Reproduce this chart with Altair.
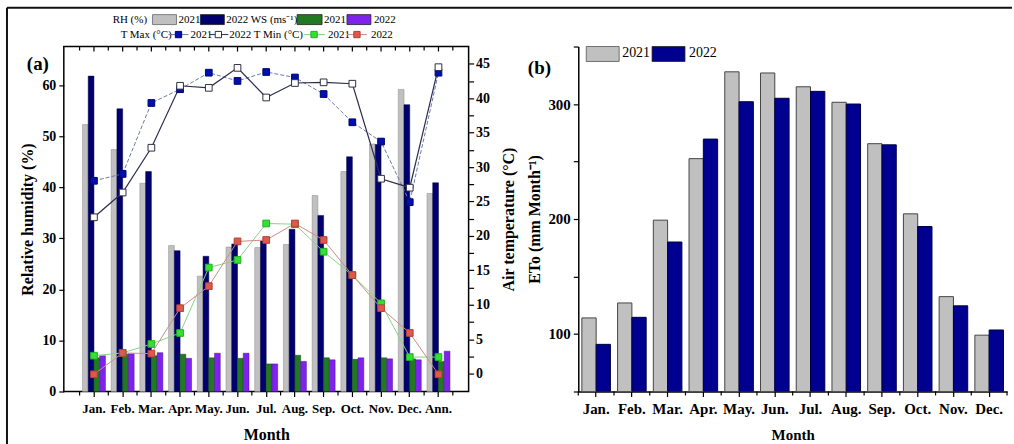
import altair as alt
import pandas as pd

SERIF = "Liberation Serif"

# ---------------- data ----------------
months_a = ["Jan.", "Feb.", "Mar.", "Apr.", "May.", "Jun.", "Jul.", "Aug.", "Sep.", "Oct.", "Nov.", "Dec.", "Ann."]
rh_2021 = [52.3, 47.4, 40.8, 28.6, 22.6, 28.3, 28.2, 28.8, 38.4, 43.1, 48.5, 59.2, 38.8]
rh_2022 = [61.8, 55.4, 43.1, 27.6, 26.5, 28.9, 29.5, 31.8, 34.5, 46.0, 48.4, 56.2, 40.9]
ws_2021 = [6.6, 7.3, 7.0, 7.3, 6.6, 6.5, 5.4, 7.1, 6.6, 6.3, 6.6, 6.4, 5.9]
ws_2022 = [7.0, 7.4, 7.6, 6.5, 7.5, 7.5, 5.4, 5.9, 6.2, 6.6, 6.4, 6.2, 7.9]
tmax_2021 = [28.0, 29.0, 39.3, 41.3, 43.7, 42.5, 43.8, 43.0, 40.6, 36.5, 33.7, 24.9, 43.7]
tmax_2022 = [22.7, 26.3, 32.8, 41.8, 41.5, 44.4, 40.1, 42.2, 42.3, 42.1, 28.3, 27.0, 44.5]
tmin_2021 = [2.6, 3.0, 4.3, 5.9, 15.4, 16.5, 21.8, 21.7, 17.7, 14.3, 10.2, 2.4, 2.4]
tmin_2022 = [-0.1, 3.0, 2.9, 9.5, 12.7, 19.2, 19.4, 21.8, 19.4, 14.3, 9.5, 5.9, -0.1]

months_b = ["Jan.", "Feb.", "Mar.", "Apr.", "May.", "Jun.", "Jul.", "Aug.", "Sep.", "Oct.", "Nov.", "Dec."]
eto_2021 = [114, 127, 199, 252.5, 328, 327, 315, 301.5, 265.5, 204.5, 132.5, 99]
eto_2022 = [91, 114.5, 180, 269.5, 302, 305, 311, 300, 264.5, 193.5, 124.5, 103.5]

# ---------------- styles ----------------
C_GREY, C_NAVY, C_GREEN, C_PURPLE = "#c0c0c0", "#00006e", "#217a21", "#7f22ee"
S_GREY, S_NAVY, S_GREEN, S_PURPLE = "#8a8a8a", "#000040", "#104a10", "#4a1090"
C_BLUE_B = "#000090"

W_A, H_A = 406, 346
W_B, H_B = 430, 346
STEP_A = W_A / (13 - 0.2 + 2 * 0.65)
STEP_B = W_B / (12 - 0.2 + 2 * 0.1)
BW_A = STEP_A * 0.8 / 4
BW_B = STEP_B * 0.8 / 2

months_a_df = pd.DataFrame({"month": months_a})
months_b_df = pd.DataFrame({"month": months_b})
ann_df = pd.DataFrame({"month": ["Ann."]})
dec_df = pd.DataFrame({"month": ["Dec."]})
one = pd.DataFrame({"k": [0]})


def txt(s, x, y, size=11, bold=False, align="left"):
    return alt.Chart(one).mark_text(
        text=s, align=align, baseline="middle", font=SERIF, fontSize=size,
        fontWeight="bold" if bold else "normal", color="black"
    ).encode(x=alt.value(x), y=alt.value(y))


def box(x1, y1, x2, y2, fill, stroke):
    return alt.Chart(one).mark_rect(fill=fill, stroke=stroke, strokeWidth=0.8).encode(
        x=alt.value(x1), x2=alt.value(x2), y=alt.value(y1), y2=alt.value(y2))


def seg(x1, y1, x2, y2, color, width=1.0, dash=None):
    kw = dict(color=color, strokeWidth=width)
    if dash:
        kw["strokeDash"] = dash
    return alt.Chart(one).mark_rule(**kw).encode(
        x=alt.value(x1), x2=alt.value(x2), y=alt.value(y1), y2=alt.value(y2))


def sq(x, y, fill, stroke):
    return alt.Chart(one).mark_point(shape="square", filled=True, fill=fill, stroke=stroke,
                                     strokeWidth=1, size=40, opacity=1).encode(
        x=alt.value(x), y=alt.value(y))


# ---------------- panel (a) ----------------
x_a_axis = alt.Axis(title="Month", labelFontSize=13, titleFontSize=16, labelAngle=0,
                    tickSize=5, labelPadding=6, titlePadding=11, domain=False, tickWidth=1.2)
sc_a = alt.Scale(type="band", paddingInner=0.2, paddingOuter=0.65)


def xa():
    return alt.X("month:N", sort=months_a, scale=sc_a, axis=x_a_axis)


rh_scale = alt.Scale(domain=[0, 67.6], nice=False, zero=False)
rh_axis = alt.Axis(title="Relative humidity (%)", values=[0, 10, 20, 30, 40, 50, 60],
                   labelFontSize=14, titleFontSize=16, tickSize=5, labelPadding=3,
                   titlePadding=6, domain=False, tickWidth=1.2)


def bar_a(arr, k, fill, stroke):
    df = pd.DataFrame({"month": months_a, "value": arr})
    return alt.Chart(df).mark_bar(width=BW_A, xOffset=(k - 1.5) * BW_A, fill=fill, stroke=stroke,
                                  strokeWidth=0.5).encode(
        x=xa(), y=alt.Y("value:Q", stack=None, scale=rh_scale, axis=rh_axis))


bars_a = alt.layer(
    bar_a(rh_2021, 0, C_GREY, S_GREY),
    bar_a(rh_2022, 1, C_NAVY, S_NAVY),
    bar_a(ws_2021, 2, C_GREEN, S_GREEN),
    bar_a(ws_2022, 3, C_PURPLE, S_PURPLE),
)

t_scale = alt.Scale(domain=[-2.6, 47.5], nice=False, zero=False)
t_axis = alt.Axis(orient="right", title="Air temperature (°C)", values=[i * 2.5 for i in range(19)],
                  labelExpr="datum.value % 5 === 0 ? datum.label : ''",
                  labelFontSize=14, titleFontSize=16, tickSize=5, labelPadding=2,
                  titlePadding=11, titleAngle=270, titleBaseline="top", domain=False, tickWidth=1.2)


def tline(arr, color, width, dash=None):
    df = pd.DataFrame({"month": months_a, "value": arr})
    kw = dict(color=color, strokeWidth=width)
    if dash:
        kw["strokeDash"] = dash
    return alt.Chart(df).mark_line(**kw).encode(
        x=xa(), y=alt.Y("value:Q", scale=t_scale, axis=t_axis))


def tpts(arr, fill, stroke):
    df = pd.DataFrame({"month": months_a, "value": arr})
    return alt.Chart(df).mark_point(shape="square", filled=True, fill=fill, stroke=stroke,
                                    strokeWidth=1, size=45, opacity=1).encode(
        x=xa(), y=alt.Y("value:Q", scale=t_scale, axis=t_axis))


temps = alt.layer(
    tline(tmax_2021, "#6a7aa8", 1.0, [4, 2]),
    tline(tmax_2022, "#2c2c50", 1.2),
    tline(tmin_2021, "#86d486", 1.0),
    tline(tmin_2022, "#d28a84", 1.0),
    tpts(tmax_2021, "#0010b0", "#000070"),
    tpts(tmax_2022, "#ffffff", "#303040"),
    tpts(tmin_2021, "#33e033", "#22b022"),
    tpts(tmin_2022, "#e0584c", "#b04038"),
)


def rules_a(df, y1, y2, offset=0.0):
    return alt.Chart(df).mark_rule(color="black", strokeWidth=1.2, xOffset=offset).encode(
        x=xa(), y=alt.value(y1), y2=alt.value(y2))


ticks_a = [
    rules_a(months_a_df, 0, 5),
    rules_a(months_a_df, 0, 4, -STEP_A / 2),
    rules_a(ann_df, 0, 4, STEP_A / 2),
    rules_a(months_a_df, H_A, H_A + 4, -STEP_A / 2),
    rules_a(ann_df, H_A, H_A + 4, STEP_A / 2),
]

legend_a = [
    txt("RH (%)", 49, -27),
    box(89, -32, 113, -22, C_GREY, "#666"),
    txt("2021", 115, -27),
    box(137, -32, 161, -22, C_NAVY, "#222"),
    txt("2022 WS (ms\u207b\u00b9)", 163, -27),
    box(234, -32, 259, -22, C_GREEN, "#222"),
    txt("2021", 261, -27),
    box(284, -32, 308, -22, C_PURPLE, "#222"),
    txt("2022", 311, -27),
    txt("T Max (°C)", 57, -12),
    seg(105, -12, 125, -12, "#6a7aa8"),
    sq(115, -12, "#0010b0", "#000070"),
    txt("2021", 127, -12),
    seg(146, -12, 165, -12, "#2c2c50"),
    sq(155, -12, "#ffffff", "#303040"),
    txt("2022 T Min (°C)", 166, -12),
    seg(241, -12, 262, -12, "#86d486"),
    sq(251, -12, "#33e033", "#22b022"),
    txt("2021", 265, -12),
    seg(284, -12, 304, -12, "#d28a84"),
    sq(294, -12, "#e0584c", "#b04038"),
    txt("2022", 308, -12),
    txt("(a)", -26, 18, size=19, bold=True, align="center"),
]

border = [
    seg(-57, -39, 951, -39, "#111111", 2),
    seg(-57, -39, -57, 399, "#111111", 2),
]

panel_a = alt.layer(bars_a, temps, *ticks_a, *legend_a, *border).resolve_scale(y="independent").properties(
    width=W_A, height=H_A, view=alt.ViewBackground(stroke="black", strokeWidth=1.5))

# ---------------- panel (b) ----------------
x_b_axis = alt.Axis(title="Month", labelFontSize=15, titleFontSize=15, labelAngle=0, tickSize=5,
                    labelPadding=5, titlePadding=11, tickWidth=1.2, domainWidth=1.5)
sc_b = alt.Scale(type="band", paddingInner=0.2, paddingOuter=0.1)


def xb():
    return alt.X("month:N", sort=months_b, scale=sc_b, axis=x_b_axis)


eto_scale = alt.Scale(domain=[50, 350], nice=False, zero=False)
eto_axis = alt.Axis(title="ETo (mm Month\u207b\u00b9)", values=[50, 100, 150, 200, 250, 300, 350],
                    labelExpr="datum.value % 100 === 0 ? datum.label : ''",
                    labelFontSize=15, titleFontSize=16, tickSize=5, labelPadding=3,
                    titlePadding=5, tickWidth=1.2, domainWidth=1.5)


def bar_b(arr, k, fill, stroke):
    df = pd.DataFrame({"month": months_b, "eto": arr})
    return alt.Chart(df).mark_bar(clip=True, width=BW_B, xOffset=(k - 0.5) * BW_B, fill=fill,
                                  stroke=stroke, strokeWidth=1).encode(
        x=xb(), y=alt.Y("eto:Q", stack=None, scale=eto_scale, axis=eto_axis))


bars_b = alt.layer(
    bar_b(eto_2021, 0, C_GREY, "#444444"),
    bar_b(eto_2022, 1, C_BLUE_B, "#000040"),
)


def rules_b(df, y1, y2, offset=0.0):
    return alt.Chart(df).mark_rule(color="black", strokeWidth=1.2, xOffset=offset).encode(
        x=xb(), y=alt.value(y1), y2=alt.value(y2))


ticks_b = [
    rules_b(months_b_df, H_B, H_B + 4, -STEP_B / 2),
    rules_b(dec_df, H_B, H_B + 4, STEP_B / 2),
]

legend_b = [
    box(8, 0, 41, 15, C_GREY, "#555"),
    txt("2021", 44, 7, size=14),
    box(74, 0, 107, 15, C_BLUE_B, "#222"),
    txt("2022", 111, 7, size=14),
    txt("(b)", -39, 22, size=19, bold=True, align="center"),
]

panel_b = alt.layer(bars_b, *ticks_b, *legend_b).properties(width=W_B, height=H_B)

chart = alt.hconcat(panel_a, panel_b, spacing=110, bounds="flush").properties(
    padding={"left": 5, "top": 5, "right": 0, "bottom": 0}
).configure(font=SERIF).configure_view(strokeWidth=0).configure_axis(
    labelFont=SERIF, titleFont=SERIF, labelFontWeight="bold", titleFontWeight="bold",
    labelColor="black", titleColor="black", domainColor="black", tickColor="black", grid=False
)

chart.save("out.html", embed_options={"renderer": "svg", "actions": False})
